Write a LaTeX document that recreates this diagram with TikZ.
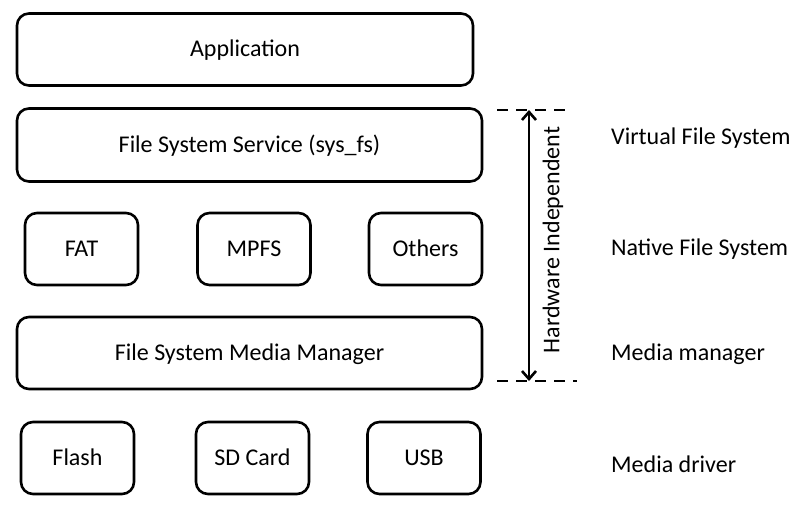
\documentclass[tikz,border=0pt]{standalone}
\usepackage{fontspec}
\setmainfont{Carlito}
\usetikzlibrary{arrows.meta}
\begin{document}
\begin{tikzpicture}[x=1pt,y=-1pt,
  blk/.style={draw=black,line width=2.6pt,rounded corners=12pt,fill=white,inner sep=0pt,text height=18pt,text depth=4pt,font=\fontsize{24}{28}\selectfont},
  lbl/.style={anchor=west,inner sep=0pt,text height=18pt,text depth=4pt,font=\fontsize{24}{28}\selectfont},
  dsh/.style={line width=2.6pt,dash pattern=on 11pt off 8pt}]
\useasboundingbox (0,0) rectangle (806,514);
\node[blk,minimum width=456pt,minimum height=72pt] (app) at (245,49.5) {Application};
\node[blk,minimum width=465pt,minimum height=73pt] (fss) at (249.5,145) {File System Service (sys\_fs)};
\node[blk,minimum width=113pt,minimum height=72pt] (fat) at (81.5,249) {FAT};
\node[blk,minimum width=113pt,minimum height=72pt] (mpfs) at (254,249) {MPFS};
\node[blk,minimum width=113pt,minimum height=72pt] (oth) at (425.5,249) {Others};
\node[blk,minimum width=465pt,minimum height=72pt] (fsmm) at (249.5,353) {File System Media Manager};
\node[blk,minimum width=113pt,minimum height=72pt] (flash) at (77.5,458) {Flash};
\node[blk,minimum width=113pt,minimum height=72pt] (sd) at (252.5,458) {SD Card};
\node[blk,minimum width=113pt,minimum height=72pt] (usb) at (424,458) {USB};
\coordinate (t1) at (497,110);
\coordinate (t2) at (565,110);
\coordinate (b1) at (497,381);
\coordinate (b2) at (577,381);
\coordinate (at) at (529,110);
\coordinate (ab) at (529,381);
\draw[dsh] (t1) -- (t2);
\draw[dsh] (b1) -- (b2);
\draw[line width=2.6pt,{Straight Barb[length=8pt,width=14pt]}-{Straight Barb[length=8pt,width=14pt]}] (at) -- (ab);
\node[rotate=90,inner sep=0pt,font=\fontsize{24}{28}\selectfont] (hw) at (553,240) {Hardware Independent};
\node[lbl] (vfs) at (611,137) {Virtual File System};
\node[lbl] (nfs) at (611,248) {Native File System};
\node[lbl] (mm) at (611,353) {Media manager};
\node[lbl] (md) at (611,465) {Media driver};
\end{tikzpicture}
\end{document}
